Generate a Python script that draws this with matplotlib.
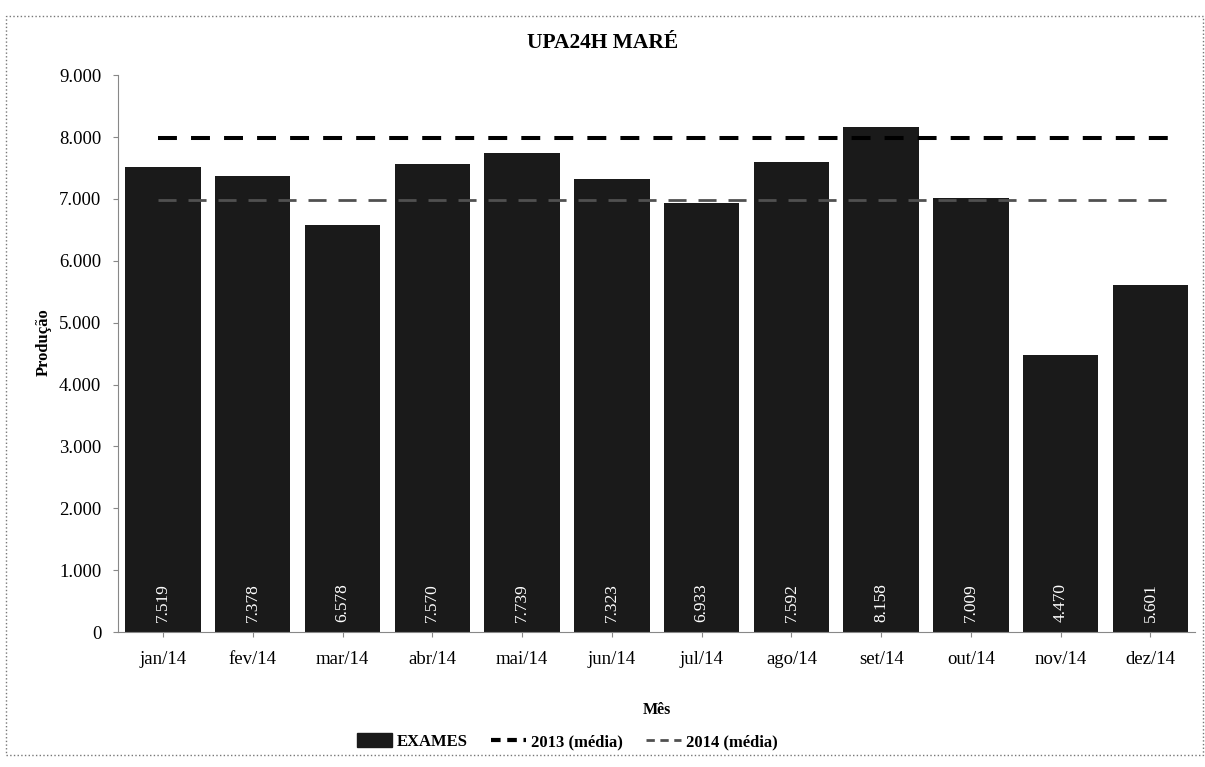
import matplotlib
matplotlib.use("Agg")
import matplotlib.pyplot as plt
from matplotlib.patches import Rectangle
from matplotlib.lines import Line2D
from matplotlib.ticker import FuncFormatter

months = ["jan/14", "fev/14", "mar/14", "abr/14", "mai/14", "jun/14",
          "jul/14", "ago/14", "set/14", "out/14", "nov/14", "dez/14"]
exames = [7519, 7378, 6578, 7570, 7739, 7323, 6933, 7592, 8158, 7009, 4470, 5601]
media_2013 = 7980
media_2014 = 6989
yticks = [0, 1000, 2000, 3000, 4000, 5000, 6000, 7000, 8000, 9000]

plt.rcParams['font.family'] = ['Liberation Serif', 'DejaVu Serif']

def fmt(v):
    return f"{int(v):,}".replace(",", ".")

fig = plt.figure(figsize=(12.05, 7.67), dpi=100)
ax = fig.add_axes([0.098, 0.176, 0.894, 0.726])

x = list(range(len(months)))
ax.bar(x, exames, width=0.84, color="#1a1a1a", zorder=2)
ax.hlines(media_2013, -0.05, len(months) - 0.7, colors="black",
          linestyles=(0, (4.7, 3.5)), linewidth=2.9, zorder=3)
ax.hlines(media_2014, -0.05, len(months) - 0.7, colors="#505050",
          linestyles=(0, (6.5, 4.3)), linewidth=2.0, zorder=3)

for xi, v in zip(x, exames):
    ax.text(xi, 160, fmt(v), rotation=90, color="white", ha="center", va="bottom",
            fontsize=12.5, zorder=4)

ax.set_xlim(-0.5, len(months) - 0.5)
ax.set_ylim(0, 9000)
ax.set_xticks(x)
ax.set_xticklabels(months, fontsize=13.5)
ax.set_yticks(yticks)
ax.yaxis.set_major_formatter(FuncFormatter(lambda v, p: fmt(v)))
ax.tick_params(axis="y", labelsize=13.5, length=3.6, color="#888888", pad=8.5)
ax.tick_params(axis="x", length=3.6, color="#888888", pad=10)
for s in ["top", "right"]:
    ax.spines[s].set_visible(False)
for s in ["left", "bottom"]:
    ax.spines[s].set_color("#888888")
    ax.spines[s].set_linewidth(0.8)

fig.text(0.5, 0.944, "UPA24H MARÉ", fontsize=15.5, fontweight="bold",
         ha="center", va="center")
ax.set_ylabel("Produção", fontsize=12, fontweight="bold")
ax.yaxis.set_label_coords(-0.062, 0.52)
ax.set_xlabel("Mês", fontsize=11.5, fontweight="bold")
ax.xaxis.set_label_coords(0.5, -0.125)

handles = [
    Rectangle((0, 0), 1, 1, color="#1a1a1a"),
    Line2D([0], [0], color="black", linestyle=(0, (2.3, 1.6)), linewidth=3),
    Line2D([0], [0], color="#505050", linestyle=(0, (3, 2)), linewidth=2),
]
fig.legend(handles, ["EXAMES", "2013 (média)", "2014 (média)"], loc="center",
           bbox_to_anchor=(0.471, 0.033), ncol=3, frameon=False,
           prop={"weight": "bold", "size": 12}, handlelength=2.1, handleheight=0.9,
           columnspacing=1.4, handletextpad=0.3)

fig.patches.append(Rectangle((0.005, 0.0156), 0.993, 0.963, transform=fig.transFigure,
                             fill=False, edgecolor="#777777", linestyle=":", linewidth=1))

fig.savefig("out.png", dpi=100)
